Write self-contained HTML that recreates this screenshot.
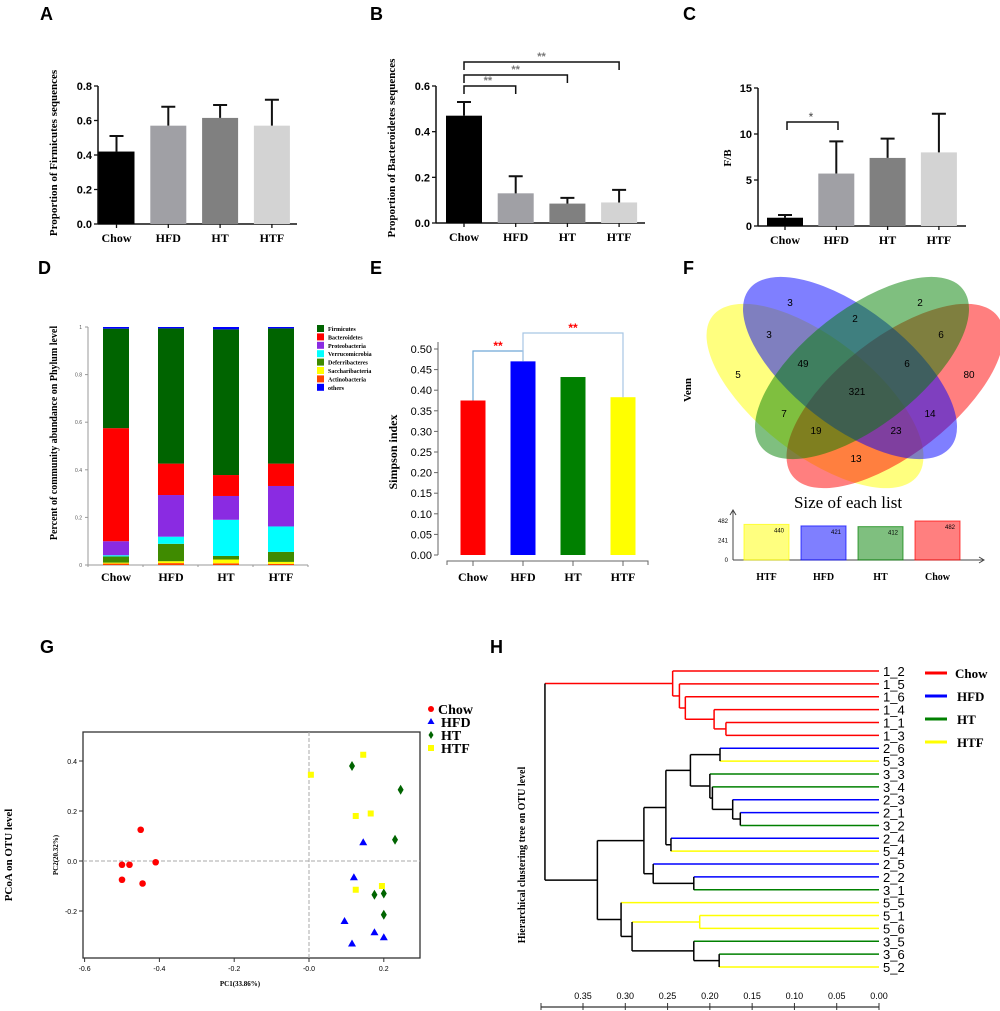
<!DOCTYPE html>
<html><head><meta charset="utf-8"><style>
html,body{margin:0;padding:0;background:#fff;}
svg{display:block;}
.sf{font-family:"Liberation Serif",serif;font-weight:bold;}
.ss{font-family:"Liberation Sans",sans-serif;}
</style></head><body>
<svg id="fig" width="1000" height="1011" viewBox="0 0 1000 1011" xmlns="http://www.w3.org/2000/svg"></svg>
<script>
// ---------- data ----------
const groups = ["Chow","HFD","HT","HTF"];
const firmMean = [0.42,0.57,0.615,0.57];
const firmErr  = [0.51,0.68,0.69,0.72];
const bactMean = [0.47,0.13,0.085,0.09];
const bactErr  = [0.53,0.205,0.11,0.145];
const fbMean = [0.9,5.7,7.4,8.0];
const fbErr  = [1.2,9.2,9.5,12.2];
const phyla = ["Firmicutes","Bacteroidetes","Proteobacteria","Verrucomicrobia","Deferribacteres","Saccharibacteria","Actinobacteria","others"];
const phylaColors = ["#006400","#ff0000","#8a2be2","#00ffff","#3f8b00","#ffff00","#ff4500","#0000ff"];
const stackOrder = [6,5,4,3,2,1,0,7];
const actino = [0.006,0.008,0.007,0.005];
const sacchar = [0.004,0.008,0.016,0.008];
const deferri = [0.026,0.073,0.015,0.042];
const verruco = [0.005,0.03,0.152,0.107];
const proteo = [0.059,0.175,0.1,0.17];
const bactero = [0.475,0.132,0.088,0.094];
const firmi = [0.418,0.568,0.612,0.568];
const others = [0.007,0.006,0.01,0.006];
const simpson = [0.375,0.47,0.432,0.383];
const simpsonColors = ["#ff0000","#0000ff","#008000","#ffff00"];
const listNames = ["HTF","HFD","HT","Chow"];
const listSizes = [440,421,412,482];
const listColors = ["#ffff00","#0000ff","#008000","#ff0000"];
const vennNums = ["3","2","3","2","6","5","49","6","80","321","7","14","19","23","13"];
const pcoaChowX = [-0.45,-0.5,-0.48,-0.41,-0.5,-0.445];
const pcoaChowY = [0.125,-0.015,-0.015,-0.005,-0.075,-0.09];
const pcoaHfdX = [0.145,0.12,0.095,0.115,0.175,0.2];
const pcoaHfdY = [0.075,-0.065,-0.24,-0.33,-0.285,-0.305];
const pcoaHtX = [0.115,0.245,0.23,0.175,0.2,0.2];
const pcoaHtY = [0.38,0.285,0.085,-0.135,-0.13,-0.215];
const pcoaHtfX = [0.005,0.145,0.125,0.165,0.125,0.195];
const pcoaHtfY = [0.345,0.425,0.18,0.19,-0.115,-0.1];
const leaves = ["1_2","1_5","1_6","1_4","1_1","1_3","2_6","5_3","3_3","3_4","2_3","2_1","3_2","2_4","5_4","2_5","2_2","3_1","5_5","5_1","5_6","3_5","3_6","5_2"];
const treeNodes = [
 ["1_1","1_3",0.181],
 ["1_4",0,0.195],
 ["1_6",1,0.229],
 ["1_5",2,0.236],
 ["1_2",3,0.244],
 ["2_1","3_2",0.164],
 ["2_3",5,0.173],
 ["3_4",6,0.197],
 ["3_3",7,0.200],
 ["2_6","5_3",0.188],
 [9,8,0.223],
 ["2_4","5_4",0.246],
 [10,11,0.252],
 ["2_2","3_1",0.219],
 ["2_5",13,0.267],
 [12,14,0.278],
 ["5_1","5_6",0.212],
 ["3_6","5_2",0.189],
 ["3_5",17,0.219],
 [16,18,0.292],
 ["5_5",19,0.305],
 [15,20,0.333],
 [4,21,0.395]
];
const treeTicks = [0.35,0.30,0.25,0.20,0.15,0.10,0.05,0.00];
const groupColors = {"1":"#ff0000","2":"#0000ff","3":"#008000","5":"#ffff00"};

// ---------- helpers ----------
const NS="http://www.w3.org/2000/svg";
const svg=document.getElementById('fig');
function mk(tag,a,p){const e=document.createElementNS(NS,tag);for(const k in a)e.setAttribute(k,a[k]);(p||svg).appendChild(e);return e;}
function tx(x,y,s,a,p){const e=mk('text',Object.assign({x:x,y:y},a),p);e.textContent=s;return e;}
function grp(name){const g=mk('g',{});return g;}

const letters=[["A",40,20],["B",370,20],["C",683,20],["D",38,274],["E",370,274],["F",683,274],["G",40,653],["H",490,653]];
letters.forEach(l=>{const t=tx(l[1],l[2],l[0],{'font-family':'Liberation Sans, sans-serif','font-weight':'bold','font-size':'18'});

});

function errChart(cfg){
  const g=grp(cfg.name);
  const y=v=>cfg.y0-(v/cfg.max)*(cfg.y0-cfg.yTop);
  const xc=i=>cfg.c0+i*cfg.step;
  mk('line',{x1:cfg.ax,y1:cfg.y0,x2:cfg.ax,y2:cfg.yTop,stroke:'#111','stroke-width':1.5},g);
  mk('line',{x1:cfg.ax,y1:cfg.y0,x2:cfg.xEnd,y2:cfg.y0,stroke:'#111','stroke-width':1.5},g);
  cfg.ticks.forEach((t,k)=>{const yy=y(t);
    mk('line',{x1:cfg.ax-4,y1:yy,x2:cfg.ax,y2:yy,stroke:'#111','stroke-width':1.3},g);
    const lb=tx(cfg.ax-6,yy+4,cfg.tickLabels[k],{'text-anchor':'end','font-family':'Liberation Sans, sans-serif','font-weight':'bold','font-size':'11'},g);
    
    
  });
  cfg.means.forEach((m,i)=>{
    const c=xc(i);
    const r=mk('rect',{x:c-18,y:y(m),width:36,height:cfg.y0-y(m),fill:cfg.colors[i]},g);
    
    
    const e=mk('path',{d:`M${c},${y(m)}V${y(cfg.errs[i])}M${c-7},${y(cfg.errs[i])}H${c+7}`,stroke:'#111','stroke-width':2,fill:'none'},g);
    
    
    mk('line',{x1:c,y1:cfg.y0,x2:c,y2:cfg.y0+4,stroke:'#111','stroke-width':1.3},g);
    const lb=tx(c,cfg.y0+18,groups[i],{'text-anchor':'middle','class':'sf','font-size':'12'},g);
    
    
  });
  const yt=tx(0,0,cfg.title,{'text-anchor':'middle','class':'sf','font-size':cfg.tsize||'11',transform:`translate(${cfg.tx},${cfg.ty}) rotate(-90)`},g);
  
  
  return {g,y,xc};
}
const grays=["#000000","#a0a0a5","#808080","#d3d3d3"];
errChart({name:'panel-a-firmicutes-chart',ax:98,y0:224,yTop:86,max:0.8,xEnd:297,c0:116.5,step:51.8,ticks:[0,0.2,0.4,0.6,0.8],tickLabels:["0.0","0.2","0.4","0.6","0.8"],means:firmMean,errs:firmErr,colors:grays,title:"Proportion of Firmicutes sequences",tx:57,ty:153});
const B=errChart({name:'panel-b-bacteroidetes-chart',ax:436,y0:223,yTop:86,max:0.6,xEnd:645,c0:464,step:51.7,ticks:[0,0.2,0.4,0.6],tickLabels:["0.0","0.2","0.4","0.6"],means:bactMean,errs:bactErr,colors:grays,title:"Proportion of Bacteroidetes sequences",tx:395,ty:148});
[[1,86,80],[2,75,69],[3,62,56]].forEach(s=>{
  const x1=B.xc(0),x2=B.xc(s[0]);
  const p=mk('path',{d:`M${x1},${s[1]+8}V${s[1]}H${x2}V${s[1]+8}`,stroke:'#111','stroke-width':1.5,fill:'none'},B.g);
  
  
  const t=tx((x1+x2)/2+(s[0]===1?-2:0),s[2]+4,"**",{'text-anchor':'middle','font-family':'Liberation Sans, sans-serif','font-size':'11','fill':'#777','font-weight':'bold'},B.g);
  
  
});
const C=errChart({name:'panel-c-fb-ratio-chart',ax:758,y0:226,yTop:88,max:15,xEnd:966,c0:785,step:51.3,ticks:[0,5,10,15],tickLabels:["0","5","10","15"],means:fbMean,errs:fbErr,colors:grays,title:"F/B",tx:731,ty:158});
{const p=mk('path',{d:`M787,130V122H838V130`,stroke:'#111','stroke-width':1.5,fill:'none'},C.g);


const t=tx(811,121,"*",{'text-anchor':'middle','font-family':'Liberation Sans, sans-serif','font-size':'12','fill':'#444'},C.g);

}

{const g=grp('panel-d-phylum-stacked-chart');
const y0=565,yTop=327;const y=v=>y0-v*(y0-yTop);
const series=[firmi,bactero,proteo,verruco,deferri,sacchar,actino,others];
mk('line',{x1:88,y1:y0,x2:88,y2:yTop,stroke:'#999','stroke-width':1},g);
mk('line',{x1:88,y1:y0,x2:308,y2:y0,stroke:'#999','stroke-width':1},g);
[0,0.2,0.4,0.6,0.8,1].forEach((t,k)=>{mk('line',{x1:85,y1:y(t),x2:88,y2:y(t),stroke:'#999'},g);
 const l=tx(82,y(t)+2,["0","0.2","0.4","0.6","0.8","1"][k],{'text-anchor':'end','font-family':'Liberation Sans, sans-serif','font-size':'5','fill':'#555'},g);
 
 });
groups.forEach((gn,i)=>{const c=116+i*55;let acc=0;
 stackOrder.forEach(si=>{const v=series[si][i];
  const r=mk('rect',{x:c-13,y:y(acc+v),width:26,height:y(acc)-y(acc+v),fill:phylaColors[si]},g);
  
  
  acc+=v;});
 const lb=tx(c,y0+16,gn,{'text-anchor':'middle','class':'sf','font-size':'12'},g);
 
 });
[88,143,198,253,308].forEach(x=>mk('line',{x1:x,y1:y0,x2:x,y2:y0+2,stroke:'#999'},g));
phyla.forEach((p,k)=>{const yy=325+k*8.4;
 const r=mk('rect',{x:317,y:yy,width:7,height:7,fill:phylaColors[k]},g);
 
 
 const t=tx(328,yy+6,p,{'class':'sf','font-size':'6'},g);
 
 });
const yt=tx(0,0,"Percent of community abundance on Phylum level",{'text-anchor':'middle','class':'sf','font-size':'10',transform:'translate(57,433) rotate(-90)'},g);

}

{const g=grp('panel-e-simpson-chart');
const y0=555,yTop=349;const y=v=>y0-v/0.5*(y0-yTop);
mk('line',{x1:438,y1:y0,x2:438,y2:342,stroke:'#666','stroke-width':1},g);
for(let k=0;k<=10;k++){const t=k*0.05;mk('line',{x1:434,y1:y(t),x2:438,y2:y(t),stroke:'#666'},g);
 const l=tx(432,y(t)+4,t.toFixed(2),{'text-anchor':'end','font-family':'Liberation Sans, sans-serif','font-size':'11'},g);
 
 }
mk('path',{d:'M447,565V561H648V565',stroke:'#666',fill:'none'},g);
simpson.forEach((v,i)=>{const c=473+i*50;
 const r=mk('rect',{x:c-12.5,y:y(v),width:25,height:y0-y(v),fill:simpsonColors[i]},g);
 
 
 mk('line',{x1:c,y1:561,x2:c,y2:566,stroke:'#666'},g);
 const lb=tx(c,581,groups[i],{'text-anchor':'middle','class':'sf','font-size':'12'},g);
 
 });
const b1=mk('path',{d:`M473,${y(simpson[0])}V351H523V${y(simpson[1])}`,stroke:'#6fa8d6','stroke-width':1.2,fill:'none'},g);


const b2=mk('path',{d:`M523,${y(simpson[1])}V333H623V${y(simpson[3])}`,stroke:'#a8c6e4','stroke-width':1.2,fill:'none'},g);


[[498,350],[573,332]].forEach(p=>{const t=tx(p[0],p[1],"**",{'text-anchor':'middle','font-family':'Liberation Sans, sans-serif','font-weight':'bold','font-size':'12',fill:'#ff0000'},g);
 
 });
const yt=tx(0,0,"Simpson index",{'text-anchor':'middle','class':'sf','font-size':'12',transform:'translate(397,452) rotate(-90)'},g);

}

{const g=grp('panel-f-venn');
const ells=[["yellow","#ffff00",815,396,130,58,38],["red","#ff0000",895,396,130,58,-38],["blue","#0000ff",850,368,128,58,38],["green","#008000",862,368,128,58,-38]];
ells.forEach(e=>{const el=mk('ellipse',{cx:e[2],cy:e[3],rx:e[4],ry:e[5],fill:e[1],'fill-opacity':0.5,transform:`rotate(${e[6]} ${e[2]} ${e[3]})`},g);
 
 });
const pos=[[790,302],[920,302],[769,334],[855,318],[941,334],[738,374],[803,363],[907,363],[969,374],[857,391],[784,413],[930,413],[816,430],[896,430],[856,458]];
vennNums.forEach((n,k)=>{const t=tx(pos[k][0],pos[k][1]+4,n,{'text-anchor':'middle','font-family':'Liberation Sans, sans-serif','font-size':'10'},g);
 
 });
const vt=tx(0,0,"Venn",{'text-anchor':'middle','class':'sf','font-size':'11',transform:'translate(691,390) rotate(-90)'},g);


const st=tx(848,508,"Size of each list",{'text-anchor':'middle','font-family':'Liberation Serif, serif','font-size':'17'},g);


const y0=560,yTop=521;const y=v=>y0-v/482*(y0-yTop);
mk('path',{d:'M733,560V511M730,515L733,510L736,515',stroke:'#444',fill:'none'},g);
mk('path',{d:'M733,560H983M979,557L984,560L979,563',stroke:'#444',fill:'none'},g);
[[0,"0"],[241,"241"],[482,"482"]].forEach(t=>{const l=tx(728,y(t[0])+2,t[1],{'text-anchor':'end','font-family':'Liberation Sans, sans-serif','font-size':'6'},g);
 
 });
listSizes.forEach((v,i)=>{const x=744+i*57;
 const r=mk('rect',{x:x,y:y(v),width:45,height:y0-y(v),fill:listColors[i],'fill-opacity':0.5,stroke:listColors[i],'stroke-opacity':0.7},g);
 
 
 const vl=tx(x+40,y(v)+8,String(v),{'text-anchor':'end','font-family':'Liberation Sans, sans-serif','font-size':'6'},g);
 
 
 const lb=tx(x+22.5,580,listNames[i],{'text-anchor':'middle','class':'sf','font-size':'10'},g);
 
 });}

{const g=grp('panel-g-pcoa-chart');
const x=v=>309+v*374, y=v=>861-v*250;
mk('rect',{x:83,y:732,width:337,height:226,fill:'none',stroke:'#333','stroke-width':1.3},g);
mk('line',{x1:x(0),y1:732,x2:x(0),y2:958,stroke:'#aaa','stroke-dasharray':'4,2'},g);
mk('line',{x1:83,y1:y(0),x2:420,y2:y(0),stroke:'#aaa','stroke-dasharray':'4,2'},g);
[-0.6,-0.4,-0.2,0,0.2].forEach((t,k)=>{mk('line',{x1:x(t),y1:958,x2:x(t),y2:962,stroke:'#333'},g);
 const l=tx(x(t),971,["-0.6","-0.4","-0.2","-0.0","0.2"][k],{'text-anchor':'middle','font-family':'Liberation Sans, sans-serif','font-size':'7'},g);
 
 });
[-0.2,0,0.2,0.4].forEach((t,k)=>{mk('line',{x1:79,y1:y(t),x2:83,y2:y(t),stroke:'#333'},g);
 const l=tx(77,y(t)+3,["-0.2","0.0","0.2","0.4"][k],{'text-anchor':'end','font-family':'Liberation Sans, sans-serif','font-size':'7'},g);
 
 });
function pts(xs,ys,kind,color,name){xs.forEach((v,i)=>{const cx=x(v),cy=y(ys[i]);let e;
 if(kind==='c')e=mk('circle',{cx:cx,cy:cy,r:3.3,fill:color},g);
 else if(kind==='t')e=mk('path',{d:`M${cx},${cy-4}L${cx+4},${cy+3}L${cx-4},${cy+3}Z`,fill:color},g);
 else if(kind==='d')e=mk('path',{d:`M${cx},${cy-5}L${cx+3},${cy}L${cx},${cy+5}L${cx-3},${cy}Z`,fill:color},g);
 else e=mk('rect',{x:cx-3,y:cy-3,width:6,height:6,fill:color},g);
 
 });}
pts(pcoaChowX,pcoaChowY,'c','#ff0000','point-chow');
pts(pcoaHfdX,pcoaHfdY,'t','#0000ff','point-hfd');
pts(pcoaHtX,pcoaHtY,'d','#006400','point-ht');
pts(pcoaHtfX,pcoaHtfY,'s','#ffff00','point-htf');
const leg=[["Chow","c","#ff0000"],["HFD","t","#0000ff"],["HT","d","#006400"],["HTF","s","#ffff00"]];
leg.forEach((l,k)=>{const cy=709+k*13;const cx=431;let e;
 if(l[1]==='c')e=mk('circle',{cx:cx,cy:cy,r:3,fill:l[2]},g);
 else if(l[1]==='t')e=mk('path',{d:`M${cx},${cy-4}L${cx+3.5},${cy+2}L${cx-3.5},${cy+2}Z`,fill:l[2]},g);
 else if(l[1]==='d')e=mk('path',{d:`M${cx},${cy-4}L${cx+2.5},${cy}L${cx},${cy+4}L${cx-2.5},${cy}Z`,fill:l[2]},g);
 else e=mk('rect',{x:cx-3,y:cy-3,width:6,height:6,fill:l[2]},g);
 
 
 const t=tx(l[0]==='Chow'?438:441,cy+5,l[0],{'class':'sf','font-size':'14'},g);
 
 });
const xt=tx(240,986,"PC1(33.86%)",{'text-anchor':'middle','class':'sf','font-size':'7'},g);


const yt=tx(0,0,"PC2(20.32%)",{'text-anchor':'middle','class':'sf','font-size':'7',transform:'translate(58,855) rotate(-90)'},g);


const yt2=tx(0,0,"PCoA on OTU level",{'text-anchor':'middle','class':'sf','font-size':'11',transform:'translate(12,855) rotate(-90)'},g);

}

{const g=grp('panel-h-dendrogram');
const x=h=>879-h*845.7;
const leafY=n=>671+leaves.indexOf(n)*12.87;
const info={};
function get(ref){
 if(typeof ref==='string') return {y:leafY(ref),h:0,col:groupColors[ref[0]]};
 if(info[ref]) return info[ref];
 const nd=treeNodes[ref];const a=get(nd[0]),b=get(nd[1]);
 const col=(a.col===b.col)?a.col:'#000';
 const r={y:(a.y+b.y)/2,h:nd[2],col:col,a:a,b:b};info[ref]=r;return r;}
treeNodes.forEach((nd,k)=>{const r=get(k);
 [r.a,r.b].forEach(c=>{const l=mk('line',{x1:x(r.h),y1:c.y,x2:x(c.h),y2:c.y,stroke:c.col,'stroke-width':1.5},g);
  
  });
 const v=mk('line',{x1:x(r.h),y1:r.a.y,x2:x(r.h),y2:r.b.y,stroke:r.col,'stroke-width':1.5},g);
 
 });
leaves.forEach(n=>{const t=tx(883,leafY(n)+5,n,{'font-family':'Liberation Sans, sans-serif','font-size':'13'},g);
 
 });
mk('line',{x1:541,y1:1007,x2:879,y2:1007,stroke:'#333','stroke-width':1.2},g);
mk('line',{x1:541,y1:1003,x2:541,y2:1010,stroke:'#333'},g);
treeTicks.forEach(t=>{mk('line',{x1:x(t),y1:1003,x2:x(t),y2:1010,stroke:'#333'},g);
 const l=tx(x(t),999,t.toFixed(2),{'text-anchor':'middle','font-family':'Liberation Sans, sans-serif','font-size':'9'},g);
 
 });
[["Chow","#ff0000"],["HFD","#0000ff"],["HT","#008000"],["HTF","#ffff00"]].forEach((l,k)=>{const yy=673+k*23;
 const ln=mk('line',{x1:925,y1:yy,x2:947,y2:yy,stroke:l[1],'stroke-width':3},g);
 
 
 const t=tx(l[0]==='Chow'?955:957,yy+5,l[0],{'class':'sf','font-size':'13'},g);
 
 });
const yt=tx(0,0,"Hierarchical clustering tree on OTU level",{'text-anchor':'middle','class':'sf','font-size':'10',transform:'translate(525,855) rotate(-90)'},g);

}
</script>
</body></html>
